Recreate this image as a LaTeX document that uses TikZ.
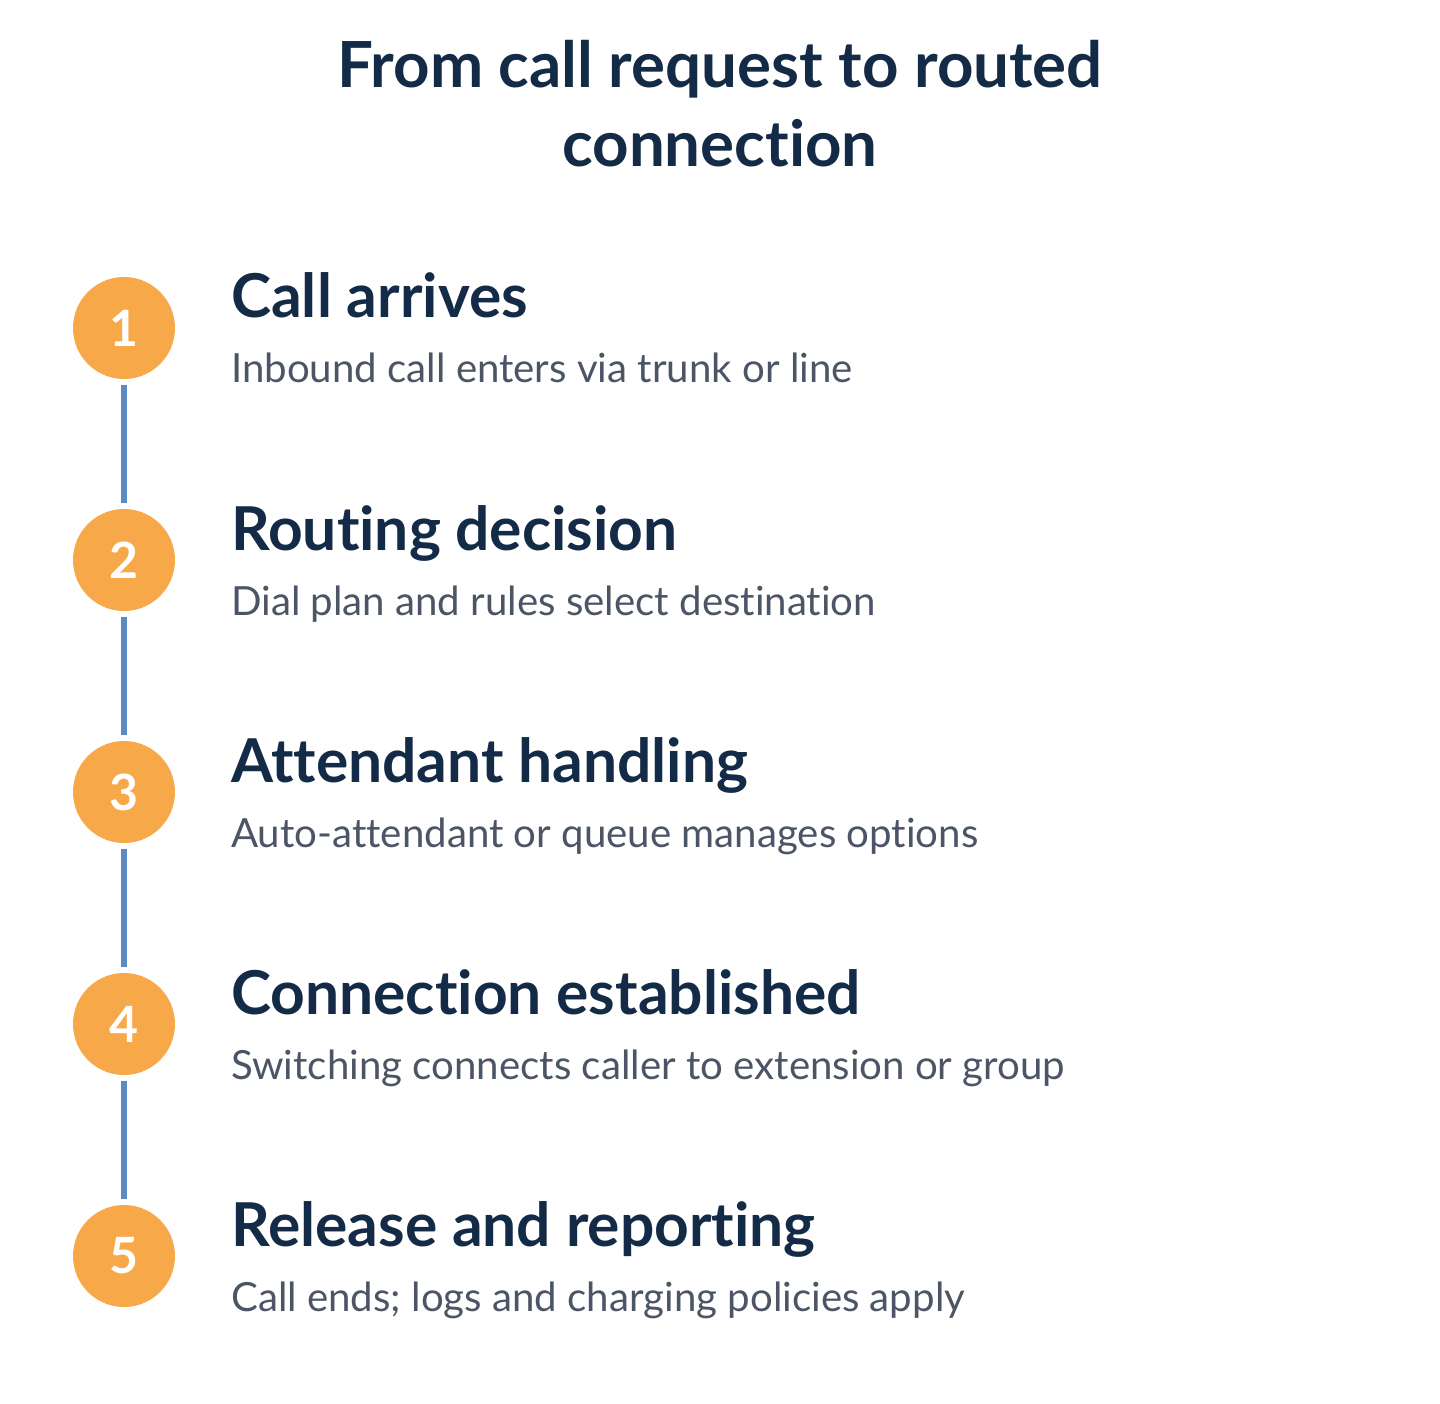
\documentclass[tikz,border=0pt]{standalone}
\usepackage{fontspec}
\setmainfont{Lato}[Ligatures=NoCommon]
\usetikzlibrary{positioning}

\definecolor{navy}{HTML}{142B47}
\definecolor{stepgray}{HTML}{4B5566}
\definecolor{badge}{HTML}{F7A94A}
\definecolor{rail}{HTML}{5B8BC0}

\begin{document}
\begin{tikzpicture}[x=1pt,y=-1pt,node distance=232pt,
  main node/.style={circle,fill=badge,minimum size=102pt,inner sep=0pt,
    text=white,font=\fontsize{50}{58}\selectfont\bfseries},
  head/.style={anchor=base west,inner sep=0pt,text=navy,
    font=\fontsize{60.5}{68}\selectfont\bfseries},
  desc/.style={anchor=base west,inner sep=0pt,text=stepgray,
    font=\fontsize{40.2}{48}\selectfont},
  link/.style={draw=rail,line width=6pt,shorten >=6pt,shorten <=6pt}]

  \useasboundingbox (0,0) rectangle (1440,1404);

  \node[inner sep=0pt,anchor=base,text=navy,font=\fontsize{63.6}{72}\selectfont\bfseries]
    (title1) at (720,88) {From call request to routed};
  \node[inner sep=0pt,anchor=base,text=navy,font=\fontsize{63.6}{72}\selectfont\bfseries]
    (title2) at (720,167) {connection};

  \node[main node] (s1) at (124,328) {1};
  \node[main node] (s2) [below of=s1] {2};
  \node[main node] (s3) [below of=s2] {3};
  \node[main node] (s4) [below of=s3] {4};
  \node[main node] (s5) [below of=s4] {5};

  \node[head] (h1) at ([xshift=107pt,yshift=10pt]s1.center) {Call arrives};
  \node[desc] (d1) at ([xshift=107pt,yshift=-55pt]s1.center) {Inbound call enters via trunk or line};
  \node[head] (h2) at ([xshift=107pt,yshift=10pt]s2.center) {Routing decision};
  \node[desc] (d2) at ([xshift=107pt,yshift=-55pt]s2.center) {Dial plan and rules select destination};
  \node[head] (h3) at ([xshift=107pt,yshift=10pt]s3.center) {Attendant handling};
  \node[desc] (d3) at ([xshift=107pt,yshift=-55pt]s3.center) {Auto-attendant or queue manages options};
  \node[head] (h4) at ([xshift=107pt,yshift=10pt]s4.center) {Connection established};
  \node[desc] (d4) at ([xshift=107pt,yshift=-55pt]s4.center) {Switching connects caller to extension or group};
  \node[head] (h5) at ([xshift=107pt,yshift=10pt]s5.center) {Release and reporting};
  \node[desc] (d5) at ([xshift=107pt,yshift=-55pt]s5.center) {Call ends; logs and charging policies apply};

  \path[link]
    (s1) edge (s2)
    (s2) edge (s3)
    (s3) edge (s4)
    (s4) edge (s5);
\end{tikzpicture}
\end{document}
